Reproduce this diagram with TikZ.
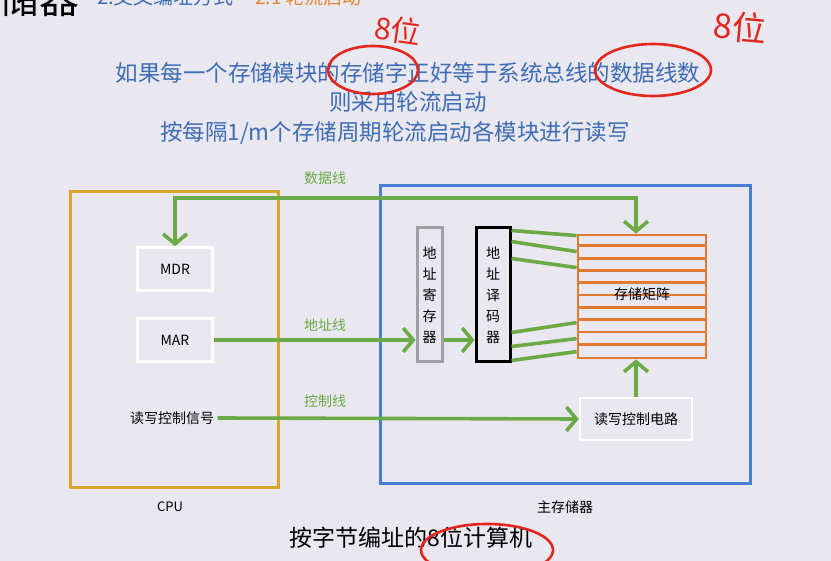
\documentclass[tikz,border=0pt]{standalone}
\usepackage{fontspec}
\setmainfont{Noto Sans CJK SC}
\usetikzlibrary{arrows.meta}
\definecolor{bgc}{HTML}{E9E7EF}
\definecolor{blueT}{HTML}{3F6DB4}
\definecolor{greenL}{HTML}{6BAA45}
\definecolor{cpuC}{HTML}{D9A52A}
\definecolor{memC}{HTML}{4A7DD6}
\definecolor{matC}{HTML}{E07A30}
\definecolor{redP}{HTML}{E3261E}
\definecolor{orT}{HTML}{E08A3A}
\definecolor{regC}{HTML}{A0A0A4}
\begin{document}
\begin{tikzpicture}[x=1pt,y=-1pt,
  fs/.style={font=\fontsize{#1}{#1}\selectfont},
  whitebox/.style={draw=white, line width=2.5pt, minimum width=75pt, minimum height=43pt, fs=14, inner sep=0pt},
  gl/.style={draw=greenL, line width=3.6pt},
  barb/.style={-{Straight Barb[length=10pt,width=24pt,line width=3.6pt]}},
  barbboth/.style={{Straight Barb[length=10pt,width=24pt,line width=3.6pt]}-{Straight Barb[length=10pt,width=24pt,line width=3.6pt]}},
  glabel/.style={text=greenL, fs=14},
  vtext/.style={font=\fontsize{14}{21}\selectfont, align=center, inner sep=0pt},
  redpen/.style={draw=redP, line width=2.6pt},
  redtext/.style={text=redP, fs=#1}
]
\fill[bgc] (0,0) rectangle (831,561);
\clip (0,0) rectangle (831,561);

% clipped header
\node[anchor=east, fs=40, inner sep=0pt] (hd) at (80,-2) {存储器};
\node[anchor=west, fs=20, text=blueT, inner sep=0pt] (hd2) at (97,-3) {2.交叉编址方式};
\node[anchor=west, fs=19, text=orT, inner sep=0pt] (hd3) at (255,-3) {2.1 轮流启动};

% statements
\node[fs=22.5, text=blueT] (l1) at (408,73) {如果每一个存储模块的存储字正好等于系统总线的数据线数};
\node[fs=22.5, text=blueT] (l2) at (408,102) {则采用轮流启动};
\node[fs=22.5, text=blueT] (l3) at (395,133) {按每隔1/m个存储周期轮流启动各模块进行读写};

% CPU
\node[draw=cpuC, line width=3pt, minimum width=208pt, minimum height=296pt] (cpu) at (174,340) {};
\node[fs=13] (cpul) at (170,507) {CPU};
\node[whitebox] (mdr) at (175,269) {MDR};
\node[whitebox] (mar) at (175,340) {MAR};
\node[fs=14] (ctl) at (172,418) {读写控制信号};

% main memory
\node[draw=memC, line width=3pt, minimum width=370pt, minimum height=298pt] (mem) at (565,335) {};
\node[fs=14] (meml) at (565,507) {主存储器};
\node[draw=regC, line width=3pt, minimum width=25pt, minimum height=134pt, inner sep=0pt] (reg) at (429.5,295) {};
\node[vtext] (regt) at (reg.center) {地\\址\\寄\\存\\器};
\node[draw=black, line width=3pt, minimum width=34pt, minimum height=134pt, inner sep=0pt] (dec) at (493,295) {};
\node[vtext] (dect) at (dec.center) {地\\址\\译\\码\\器};
\node[draw=matC, line width=2.8pt, minimum width=128pt, minimum height=123pt, inner sep=0pt] (mat) at (642,296.5) {};
\foreach \i in {1,...,9}
  \draw[matC, line width=2.8pt] ([yshift=-\i*12.3pt]mat.north west) -- ([yshift=-\i*12.3pt]mat.north east);
\node[fs=14, inner sep=0.5pt] (matt) at (642,294) {存储矩阵};
\node[whitebox, minimum width=112pt, minimum height=42pt] (rw) at (636,419) {读写控制电路};

% connectors
\coordinate (dtop) at (636,198);
\draw[gl, barbboth] (mdr.north) |- (dtop) -- (mat.north -| dtop);
\node[glabel] (dl) at (325,178) {数据线};
\draw[gl, barb] (mar.east) -- (reg.west |- mar.east);
\node[glabel] (al) at (325,325) {地址线};
\draw[gl, barb] (reg.east |- mar.east) -- (dec.west |- mar.east);
\draw[gl, barb] (ctl.east) -- (rw.west);
\node[glabel] (cl) at (325,401) {控制线};
\draw[gl, barb] (rw.north) -- (mat.south -| rw.north);
\foreach \a/\b in {4/2, 15/18, 32/34, 106/89, 120/105, 134/118}
  \draw[gl] ([yshift=-\a pt]dec.north east) -- ([yshift=-\b pt]mat.north west);

% bottom caption
\node[fs=23] (cap) at (411,538) {按字节编址的8位计算机};

% handwritten red annotations
\draw[redpen] (373,70) ellipse [x radius=45, y radius=24];
\node[redtext=30, rotate=-8, inner sep=0pt] (r1) at (398,30) {8位};
\draw[redpen] (653,70) ellipse [x radius=58, y radius=26];
\node[redtext=34, rotate=-5, inner sep=0pt] (r2) at (740,27) {8位};
\draw[redpen] (487,550) ellipse [x radius=66, y radius=26];
\end{tikzpicture}
\end{document}
